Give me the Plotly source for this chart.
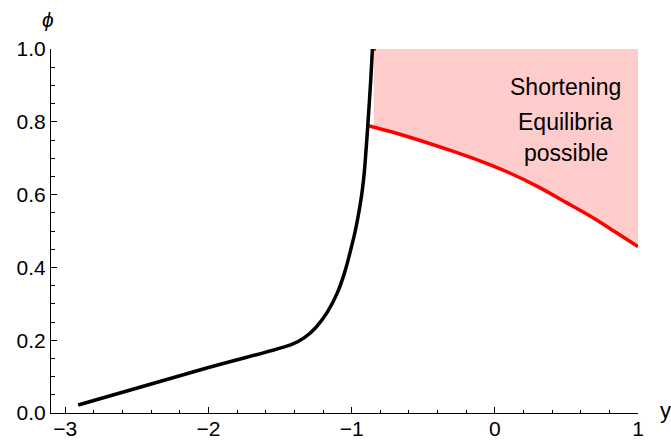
import plotly.graph_objects as go

# Black boundary curve
black_x = [-2.91, -2.0, -1.41, -1.33, -1.25, -1.17, -1.10, -1.05, -1.01, -0.975, -0.948, -0.928,
           -0.912, -0.900, -0.889, -0.878, -0.866, -0.855]
black_y = [0.022, 0.125, 0.19, 0.207, 0.235, 0.277, 0.33, 0.385, 0.443, 0.50, 0.555, 0.605,
           0.66, 0.72, 0.78, 0.845, 0.92, 1.0]

# Red boundary curve
red_x = [-0.89, -0.7, -0.5, -0.3, -0.1, 0.1, 0.3, 0.5, 0.7, 0.85, 1.0]
red_y = [0.79, 0.770, 0.746, 0.720, 0.692, 0.660, 0.622, 0.578, 0.533, 0.495, 0.457]

# short red mark at top
red_top_x = [-0.86, -0.83]
red_top_y = [1.0, 1.0]

# shaded region: between red curve and phi = 1, starting at x = fill_left
fill_left = -0.845
fill_left_y = 0.785
fill_top = 1.0

region_labels = ["Shortening", "Equilibria", "possible"]
region_label_x = 0.497
region_label_y = [0.896, 0.80, 0.714]

x_ticks = [-3, -2, -1, 0, 1]
y_ticks = [0.0, 0.2, 0.4, 0.6, 0.8, 1.0]

FONT = "Liberation Sans, Arial, sans-serif"

fill_x = [fill_left] + [x for x in red_x if x > fill_left] + [red_x[-1], fill_left]
fill_y = [fill_left_y] + [y for x, y in zip(red_x, red_y) if x > fill_left] + [fill_top, fill_top]

fig = go.Figure()
fig.add_trace(go.Scatter(x=fill_x, y=fill_y, mode="lines", fill="toself",
                         fillcolor="#FFCCCC", line=dict(width=0),
                         hoverinfo="skip", showlegend=False))
fig.add_trace(go.Scatter(x=red_x, y=red_y, mode="lines",
                         line=dict(color="#FF0000", width=3.5, shape="spline", smoothing=1.0),
                         showlegend=False))
fig.add_trace(go.Scatter(x=red_top_x, y=red_top_y, mode="lines",
                         line=dict(color="#FF0000", width=3.5),
                         showlegend=False, cliponaxis=False))
fig.add_trace(go.Scatter(x=black_x, y=black_y, mode="lines",
                         line=dict(color="#000000", width=3.5, shape="spline", smoothing=1.0),
                         showlegend=False, cliponaxis=False))

for t, yy in zip(region_labels, region_label_y):
    fig.add_annotation(x=region_label_x, y=yy, text=t, showarrow=False,
                       font=dict(family=FONT, size=23, color="#000000"),
                       xanchor="center", yanchor="middle")

fig.add_annotation(xref="paper", yref="paper", x=-0.005, y=1.082, text="<i>ϕ</i>",
                   showarrow=False, font=dict(family=FONT, size=21, color="#000000"),
                   xanchor="center", yanchor="middle")
fig.add_annotation(xref="paper", yref="paper", x=1.046, y=0.008, text="y",
                   showarrow=False, font=dict(family=FONT, size=22, color="#000000"),
                   xanchor="center", yanchor="middle")

fig.update_layout(
    width=671, height=442,
    margin=dict(l=51, r=33, t=49, b=29, autoexpand=False),
    paper_bgcolor="white", plot_bgcolor="white",
    font=dict(family=FONT, size=22, color="#000000"),
)
fig.update_xaxes(range=[-3.1, 1.0], tickvals=x_ticks, ticktext=[("\u2212" + str(-v)) if v < 0 else str(v) for v in x_ticks],
                 automargin=False, ticklabelstandoff=-3,
                 showgrid=False, zeroline=False, showline=True, linecolor="#000000", linewidth=1,
                 ticks="inside", ticklen=6, tickcolor="#000000", tickwidth=1,
                 minor=dict(dtick=0.2, tick0=0, ticks="inside", ticklen=3.5, tickcolor="#000000", tickwidth=1, showgrid=False),
                 tickfont=dict(family=FONT, size=21, color="#000000"))
fig.update_yaxes(range=[0, 1.0], tickvals=y_ticks, ticktext=[f"{v:.1f}" for v in y_ticks],
                 automargin=False,
                 showgrid=False, zeroline=False, showline=True, linecolor="#000000", linewidth=1,
                 ticks="inside", ticklen=6, tickcolor="#000000", tickwidth=1,
                 minor=dict(dtick=0.05, tick0=0, ticks="inside", ticklen=3.5, tickcolor="#000000", tickwidth=1, showgrid=False),
                 tickfont=dict(family=FONT, size=21, color="#000000"))

fig.write_html("out.html")
